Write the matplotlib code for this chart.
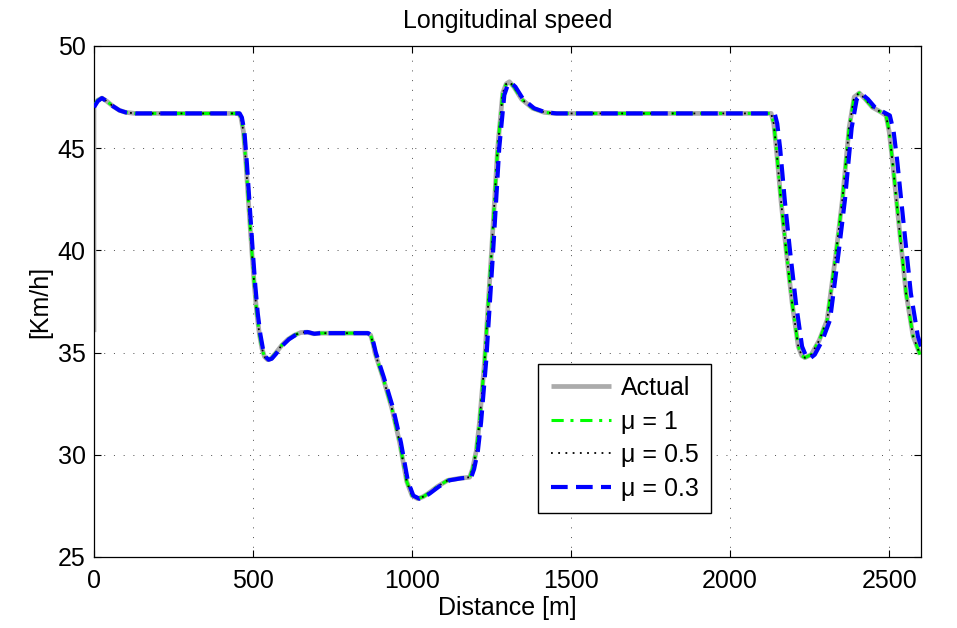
import matplotlib
matplotlib.use("Agg")
import matplotlib.pyplot as plt

# ---------------- data ----------------
# simulated speed for mu = 1 and mu = 0.5 (they coincide with the actual speed)
dist_sim = [0, 12, 25, 40, 60, 80, 100, 130, 200, 300, 400, 455, 462, 470, 478, 486,
            496, 504, 512, 520, 528, 536, 546, 556, 570, 590, 610, 630, 650, 670, 690,
            710, 740, 800, 860, 870, 878, 883, 908, 936, 961, 983, 1000, 1018, 1035,
            1050, 1080, 1112, 1150, 1181, 1190, 1202, 1212, 1228, 1250, 1269, 1285,
            1296, 1306, 1320, 1344, 1379, 1416, 1450, 1600, 1800, 2000, 2129, 2137,
            2145, 2160, 2176, 2195, 2214, 2225, 2235, 2255, 2280, 2305, 2333, 2353,
            2374, 2390, 2406, 2425, 2447, 2470, 2490, 2500, 2510, 2531, 2553, 2575, 2597]
speed_mu1 = [47.1, 47.35, 47.45, 47.3, 47.05, 46.85, 46.75, 46.7, 46.7, 46.7, 46.7, 46.7,
             46.5, 45.8, 44.2, 42.3, 40.0, 38.3, 36.9, 35.9, 35.2, 34.8, 34.65, 34.7,
             34.95, 35.35, 35.65, 35.85, 35.98, 36.0, 35.92, 35.95, 35.95, 35.95, 35.95,
             35.85, 35.4, 35.0, 33.8, 32.3, 30.6, 28.7, 28.0, 27.85, 27.95, 28.1, 28.45,
             28.75, 28.85, 28.9, 29.3, 30.2, 31.6, 34.6, 40.0, 45.0, 47.7, 48.15, 48.25,
             48.0, 47.4, 46.95, 46.75, 46.7, 46.7, 46.7, 46.7, 46.7, 46.2, 45.0, 42.4,
             40.0, 37.4, 35.3, 34.85, 34.75, 34.9, 35.6, 36.6, 39.9, 42.5, 46.0, 47.5,
             47.7, 47.4, 47.0, 46.8, 46.6, 45.8, 44.4, 41.2, 37.9, 35.8, 34.9]
speed_mu05 = [47.1, 47.35, 47.45, 47.3, 47.05, 46.85, 46.75, 46.7, 46.7, 46.7, 46.7, 46.7,
              46.5, 45.8, 44.2, 42.3, 40.0, 38.3, 36.9, 35.9, 35.2, 34.8, 34.65, 34.7,
              34.95, 35.35, 35.65, 35.85, 35.98, 36.0, 35.92, 35.95, 35.95, 35.95, 35.95,
              35.85, 35.4, 35.0, 33.8, 32.3, 30.6, 28.7, 28.0, 27.85, 27.95, 28.1, 28.45,
              28.75, 28.85, 28.9, 29.3, 30.2, 31.6, 34.6, 40.0, 45.0, 47.7, 48.15, 48.25,
              48.0, 47.4, 46.95, 46.75, 46.7, 46.7, 46.7, 46.7, 46.7, 46.2, 45.0, 42.4,
              40.0, 37.4, 35.3, 34.85, 34.75, 34.9, 35.6, 36.6, 39.9, 42.5, 46.0, 47.5,
              47.7, 47.4, 47.0, 46.8, 46.6, 45.8, 44.4, 41.2, 37.9, 35.8, 34.9]

# actual speed: starts at 36 km/h, then follows the same profile
dist_actual_start = [0]
speed_actual_start = [36.0]

# mu = 0.3 lags slightly behind
dist_mu03 = [0, 12, 25, 40, 60, 80, 100, 130, 200, 300, 400, 458, 465, 473, 481, 489,
             499, 507, 515, 523, 531, 539, 549, 559, 573, 593, 613, 633, 653, 673, 693,
             713, 743, 800, 862, 872, 880, 886, 911, 940, 965, 987, 1004, 1023, 1040,
             1055, 1085, 1117, 1155, 1186, 1195, 1207, 1217, 1233, 1255, 1274, 1290,
             1301, 1311, 1325, 1349, 1384, 1420, 1455, 1600, 1800, 2000, 2140, 2148,
             2157, 2172, 2188, 2207, 2226, 2238, 2250, 2266, 2290, 2314, 2341, 2361,
             2382, 2398, 2414, 2433, 2455, 2478, 2502, 2514, 2525, 2546, 2568, 2590, 2600]
speed_mu03 = [47.0, 47.3, 47.45, 47.3, 47.05, 46.85, 46.75, 46.7, 46.7, 46.7, 46.7, 46.7,
              46.5, 45.8, 44.2, 42.3, 40.0, 38.3, 36.9, 35.9, 35.2, 34.8, 34.65, 34.7,
              34.95, 35.35, 35.65, 35.85, 35.98, 36.0, 35.92, 35.95, 35.95, 35.95, 35.95,
              35.85, 35.4, 35.0, 33.8, 32.3, 30.6, 28.7, 28.0, 27.85, 27.95, 28.1, 28.45,
              28.75, 28.85, 28.9, 29.3, 30.2, 31.6, 34.6, 40.0, 45.0, 47.6, 48.1, 48.2,
              48.0, 47.4, 46.95, 46.75, 46.7, 46.7, 46.7, 46.7, 46.7, 46.2, 45.0, 42.4,
              40.0, 37.4, 35.3, 34.85, 34.7, 34.9, 35.6, 36.6, 39.9, 42.5, 46.0, 47.4,
              47.65, 47.4, 47.0, 46.8, 46.6, 45.8, 44.4, 41.2, 37.9, 35.8, 35.3]

labels = ["Actual", "\u03bc = 1", "\u03bc = 0.5", "\u03bc = 0.3"]
x_ticks = [0, 500, 1000, 1500, 2000, 2500]
y_ticks = [25, 30, 35, 40, 45, 50]

# ---------------- figure ----------------
plt.rcParams['font.family'] = ['Liberation Sans', 'DejaVu Sans']
fig = plt.figure(figsize=(9.57, 6.28), dpi=100)
ax = fig.add_axes([0.0982, 0.1131, 0.8642, 0.8137])

ax.plot(dist_actual_start + dist_sim, speed_actual_start + speed_mu1,
        color='#ababab', lw=3.4, solid_capstyle='butt', label=labels[0], zorder=2)
ax.plot(dist_sim, speed_mu1, color='#00ff00', lw=2.2,
        linestyle=(0, (4, 2.2, 1, 2.2)), label=labels[1], zorder=3)
ax.plot(dist_sim, speed_mu05, color='black', lw=1.3,
        linestyle=(0, (1, 3)), label=labels[2], zorder=4)
ax.plot(dist_mu03, speed_mu03, color='#0000ff', lw=3.0,
        linestyle=(0, (4, 2)), label=labels[3], zorder=5)

ax.set_xlim(0, 2600)
ax.set_ylim(25, 50)
ax.set_xticks(x_ticks)
ax.set_yticks(y_ticks)
ax.tick_params(direction='in', length=5, width=0.8, top=True, right=True,
               labelsize=18)
ax.tick_params(axis='x', pad=9)
ax.tick_params(axis='y', pad=6)
for s in ax.spines.values():
    s.set_linewidth(0.9)
ax.grid(True, color='0.3', linestyle=(0, (1, 9)), linewidth=0.7)

ax.set_title("Longitudinal speed", fontsize=18, pad=13)
ax.set_xlabel("Distance [m]", fontsize=18, labelpad=2)
ax.set_ylabel("[Km/h]", fontsize=18, labelpad=4)

leg = ax.legend(loc='lower left', bbox_to_anchor=(0.537, 0.086), fontsize=18,
                handlelength=2.4, handletextpad=0.4, labelspacing=0.38,
                borderpad=0.5, borderaxespad=0.0, fancybox=False,
                framealpha=1, edgecolor='black')
leg.get_frame().set_linewidth(1.0)

fig.savefig("out.png", dpi=100)
